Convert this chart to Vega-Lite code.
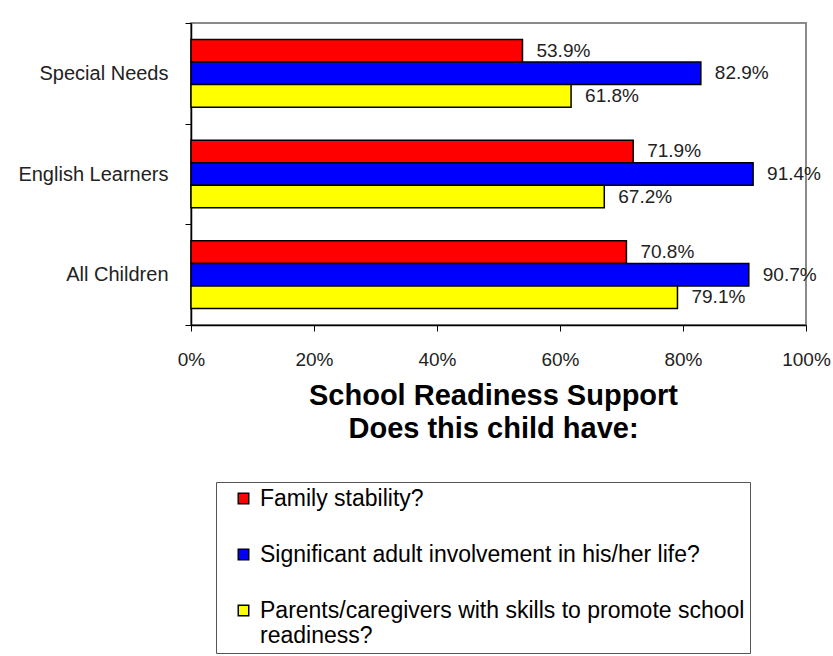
{
  "$schema": "https://vega.github.io/schema/vega-lite/v6.json",
  "width": 615,
  "height": 302,
  "autosize": "none",
  "padding": {"left": 191, "top": 23, "right": 27, "bottom": 331},
  "background": "white",
  "config": {
    "font": "Liberation Sans",
    "view": {"stroke": "#8a8a8a", "strokeWidth": 2}
  },
  "data": {
    "values": [
      {"group": "Special Needs", "measure": "Family stability?", "value": 0.539},
      {"group": "Special Needs", "measure": "Significant adult involvement in his/her life?", "value": 0.829},
      {"group": "Special Needs", "measure": "Parents/caregivers with skills to promote school readiness?", "value": 0.618},
      {"group": "English Learners", "measure": "Family stability?", "value": 0.719},
      {"group": "English Learners", "measure": "Significant adult involvement in his/her life?", "value": 0.914},
      {"group": "English Learners", "measure": "Parents/caregivers with skills to promote school readiness?", "value": 0.672},
      {"group": "All Children", "measure": "Family stability?", "value": 0.708},
      {"group": "All Children", "measure": "Significant adult involvement in his/her life?", "value": 0.907},
      {"group": "All Children", "measure": "Parents/caregivers with skills to promote school readiness?", "value": 0.791}
    ]
  },
  "encoding": {
    "y": {
      "field": "group",
      "type": "nominal",
      "sort": ["Special Needs", "English Learners", "All Children"],
      "scale": {"paddingInner": 0, "paddingOuter": 0},
      "axis": {
        "title": null,
        "domainColor": "black",
        "domainWidth": 1.5,
        "tickColor": "black",
        "tickSize": 6,
        "tickBand": "extent",
        "labelFontSize": 20,
        "labelColor": "#222",
        "labelPadding": 17
      }
    },
    "yOffset": {
      "field": "measure",
      "type": "nominal",
      "sort": ["Family stability?", "Significant adult involvement in his/her life?", "Parents/caregivers with skills to promote school readiness?"],
      "scale": {"paddingInner": 0, "paddingOuter": 0.73}
    },
    "x": {
      "field": "value",
      "type": "quantitative",
      "scale": {"domain": [0, 1]},
      "axis": {
        "values": [0, 0.2, 0.4, 0.6, 0.8, 1],
        "format": ".0%",
        "grid": false,
        "domainColor": "black",
        "domainWidth": 1.5,
        "tickColor": "black",
        "tickSize": 6,
        "labelFontSize": 19,
        "labelColor": "#222",
        "labelPadding": 19,
        "labelFlush": false,
        "title": ["School Readiness Support", "Does this child have:"],
        "titleFontSize": 29,
        "titleFontWeight": "bold",
        "titleColor": "black",
        "titleLineHeight": 33,
        "titlePadding": 12,
        "titleX": 302
      }
    }
  },
  "layer": [
    {
      "mark": {"type": "bar", "stroke": "black", "strokeWidth": 1.5},
      "encoding": {
        "color": {
          "field": "measure",
          "type": "nominal",
          "sort": ["Family stability?", "Significant adult involvement in his/her life?", "Parents/caregivers with skills to promote school readiness?"],
          "scale": {"range": ["#ff0000", "#0000ff", "#ffff00"]},
          "legend": {
            "title": null,
            "orient": "none",
            "legendX": 25,
            "legendY": 459,
            "strokeColor": "#555",
            "padding": 5,
            "symbolType": "square",
            "symbolSize": 110,
            "symbolStrokeColor": "black",
            "symbolStrokeWidth": 1.5,
            "symbolOffset": 11,
            "labelFontSize": 23,
            "labelColor": "black",
            "labelOffset": 5,
            "labelLimit": 700,
            "rowPadding": 32,
            "labelExpr": "datum.label == 'Parents/caregivers with skills to promote school readiness?' ? ['Parents/caregivers with skills to promote school', 'readiness?'] : datum.label",
            "encode": {"labels": {"update": {"lineHeight": {"value": 25}}}}
          }
        }
      }
    },
    {
      "mark": {"type": "text", "align": "left", "baseline": "middle", "dx": 14, "fontSize": 19, "color": "#222"},
      "encoding": {"text": {"field": "value", "type": "quantitative", "format": ".1%"}}
    }
  ]
}
